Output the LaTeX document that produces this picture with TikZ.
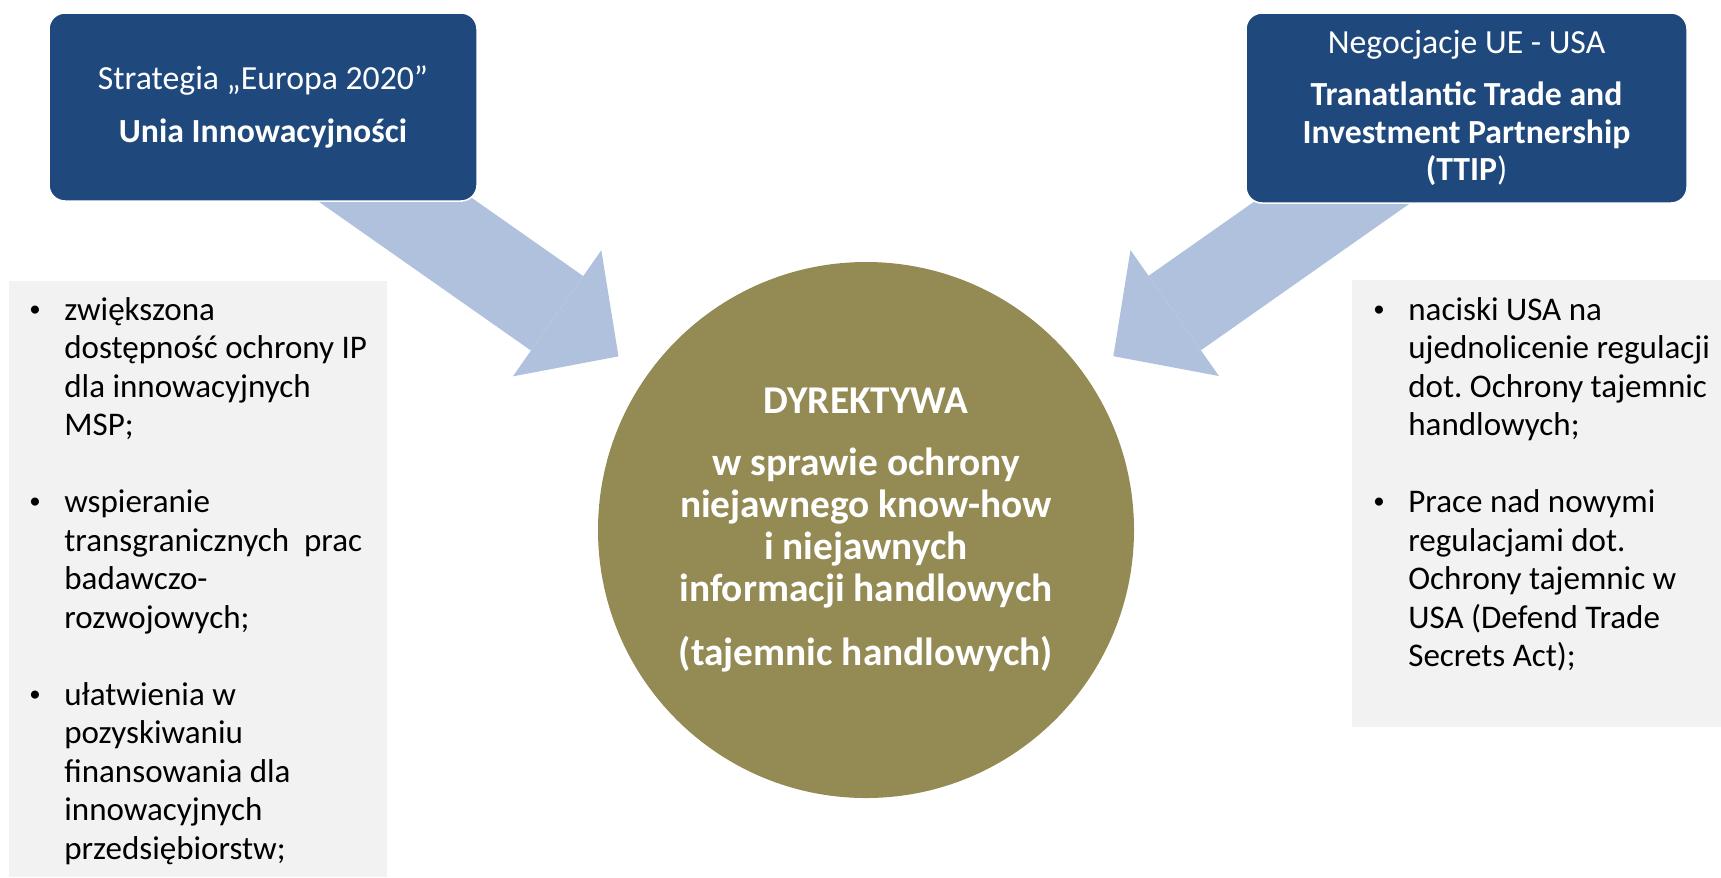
\documentclass[tikz,border=0pt]{standalone}
\usepackage{fontspec}
\setmainfont{Carlito}
\usetikzlibrary{arrows.meta,positioning,calc,backgrounds}

\definecolor{boxblue}{HTML}{1F497D}
\definecolor{arrowblue}{HTML}{B0C1DD}
\definecolor{olivegreen}{HTML}{948A54}
\definecolor{panelgray}{HTML}{F2F2F2}
\frenchspacing
\newcommand{\listbullet}{\raisebox{0.12em}{\fontsize{13}{13}\selectfont\textbullet}}

\begin{document}
\begin{tikzpicture}[every text node part/.style={align=center},
  topbox/.style={rectangle, rounded corners=0.32cm, fill=boxblue, draw=white, line width=0.03cm,
    text=white, inner sep=0pt, font=\fontsize{19.2}{21.3}\selectfont},
  panel/.style={rectangle, fill=panelgray, inner sep=0pt, anchor=north west},
  listtext/.style={inner sep=0pt, align=left, font=\fontsize{18.8}{21.9}\selectfont},
  bigarrow/.style={draw=arrowblue, line width=1.82cm,
    -{Triangle[width=3.08cm,length=1.5cm,line width=0pt]}, shorten >=0.68cm}]
 \useasboundingbox (0,0) rectangle (34.42,-17.54);

 \node[topbox, minimum width=8.56cm, minimum height=3.76cm] (strategia) at (5.26,-2.14)
   {Strategia „Europa 2020”\\[8.9pt]\textbf{Unia Innowacyjności}};
 \node[topbox, minimum width=8.82cm, minimum height=3.80cm] (ttip) at (29.33,-2.16)
   {Negocjacje UE - USA\\[8.3pt]\textbf{Tranatlantic Trade and}\\\textbf{Investment Partnership}\\\textbf{(TTIP})};

 \node[circle, fill=olivegreen, text=white, inner sep=0pt, minimum size=10.72cm,
   font=\fontsize{22.4}{23.9}\selectfont\bfseries] (dyrektywa) at (17.32,-10.6)
   {DYREKTYWA\\[11pt]w sprawie ochrony\\niejawnego know-how\\i niejawnych\\informacji handlowych\\[12.5pt](tajemnic handlowych)};

 \node[panel, minimum width=7.56cm, minimum height=11.92cm] (leftpanel) at (0.18,-5.62) {};
 \node[panel, minimum width=7.38cm, minimum height=8.94cm] (rightpanel) at (27.04,-5.6) {};

 \node[listtext, below right=0.24cm and 0.4cm of leftpanel.north west] (leftlist) {%
  \begin{tabular}{@{}p{0.7cm}@{}l@{}}
  \listbullet & zwiększona\\
   & dostępność ochrony IP\\
   & dla innowacyjnych\\
   & MSP;\\[21.9pt]
  \listbullet & wspieranie\\
   & transgranicznych\ \ prac\\
   & badawczo-\\
   & rozwojowych;\\[21.9pt]
  \listbullet & ułatwienia w\\
   & pozyskiwaniu\\
   & finansowania dla\\
   & innowacyjnych\\
   & przedsiębiorstw;
  \end{tabular}};
 \node[listtext, below right=0.26cm and 0.42cm of rightpanel.north west] (rightlist) {%
  \begin{tabular}{@{}p{0.7cm}@{}l@{}}
  \listbullet & naciski USA na\\
   & ujednolicenie regulacji\\
   & dot. Ochrony tajemnic\\
   & handlowych;\\[21.9pt]
  \listbullet & Prace nad nowymi\\
   & regulacjami dot.\\
   & Ochrony tajemnic w\\
   & USA (Defend Trade\\
   & Secrets Act);
  \end{tabular}};

 \begin{pgfonlayer}{background}
  \draw[bigarrow] (strategia.center) -- (dyrektywa);
  \draw[bigarrow] (ttip.center) -- (dyrektywa);
 \end{pgfonlayer}

\end{tikzpicture}
\end{document}
